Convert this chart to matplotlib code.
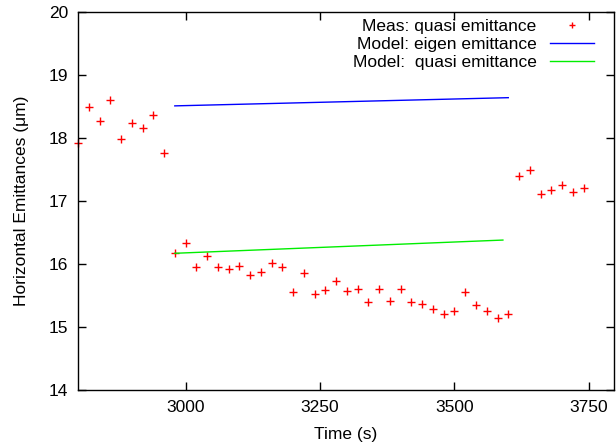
import matplotlib
matplotlib.use("Agg")
import matplotlib.pyplot as plt

plt.rcParams['font.family'] = ['Liberation Sans', 'DejaVu Sans']

# Measured quasi emittance
meas_t = [2800, 2820, 2840, 2860, 2880, 2900, 2920, 2940, 2960,
          2980, 3000, 3020, 3040, 3060, 3080, 3100, 3120, 3140, 3160, 3180,
          3200, 3220, 3240, 3260, 3280, 3300, 3320, 3340, 3360, 3380, 3400,
          3420, 3440, 3460, 3480, 3500, 3520, 3540, 3560, 3580, 3600,
          3620, 3640, 3660, 3680, 3700, 3720, 3740]
meas_e = [17.92, 18.49, 18.27, 18.61, 17.98, 18.24, 18.16, 18.36, 17.76,
          16.18, 16.33, 15.96, 16.13, 15.95, 15.92, 15.97, 15.82, 15.88, 16.02, 15.95,
          15.55, 15.85, 15.52, 15.59, 15.73, 15.57, 15.61, 15.39, 15.60, 15.41, 15.61,
          15.39, 15.37, 15.28, 15.20, 15.26, 15.56, 15.35, 15.26, 15.14, 15.21,
          17.39, 17.49, 17.11, 17.17, 17.26, 17.15, 17.21]

# Model eigen emittance
eigen_t = [2980, 3600]
eigen_e = [18.51, 18.64]

# Model quasi emittance
quasi_t = [2980, 3590]
quasi_e = [16.17, 16.38]

xticks = [3000, 3250, 3500, 3750]
yticks = [14, 15, 16, 17, 18, 19, 20]

fig = plt.figure(figsize=(6.16, 4.44), dpi=100)
ax = fig.add_axes([78/616, 1-390/444, (613.7-78)/616, (390-12)/444])

fs = 12.5
ax.plot(meas_t, meas_e, linestyle='none', marker='+', color='#ff0000',
        markersize=6, markeredgewidth=1.0, label='Meas: quasi emittance', clip_on=False)
ax.plot(eigen_t, eigen_e, color='#0000ff', lw=1.0, label='Model: eigen emittance')
ax.plot(quasi_t, quasi_e, color='#00ee00', lw=1.0, label='Model:  quasi emittance')

ax.set_xlim(2800, 3796)
ax.set_ylim(14, 20)
ax.set_xticks(xticks)
ax.set_yticks(yticks)
ax.tick_params(direction='in', length=6, width=1, top=True, right=True,
               labelsize=fs, pad=7)
for s in ax.spines.values():
    s.set_linewidth(1.0)

ax.set_xlabel('Time (s)', fontsize=fs, labelpad=9)
ax.set_ylabel('Horizontal Emittances (\u03bcm)', fontsize=fs, labelpad=14)

leg = ax.legend(loc='upper right', bbox_to_anchor=(0.976, 1.0), frameon=False,
                fontsize=fs, markerfirst=False,
                handlelength=2.5, handletextpad=0.8, borderaxespad=0.2,
                labelspacing=0.15, borderpad=0.2, markerscale=0.7)
for t in leg.get_texts():
    t.set_ha('right')
leg._legend_box.align = 'right'

fig.savefig('out.png', dpi=100)
